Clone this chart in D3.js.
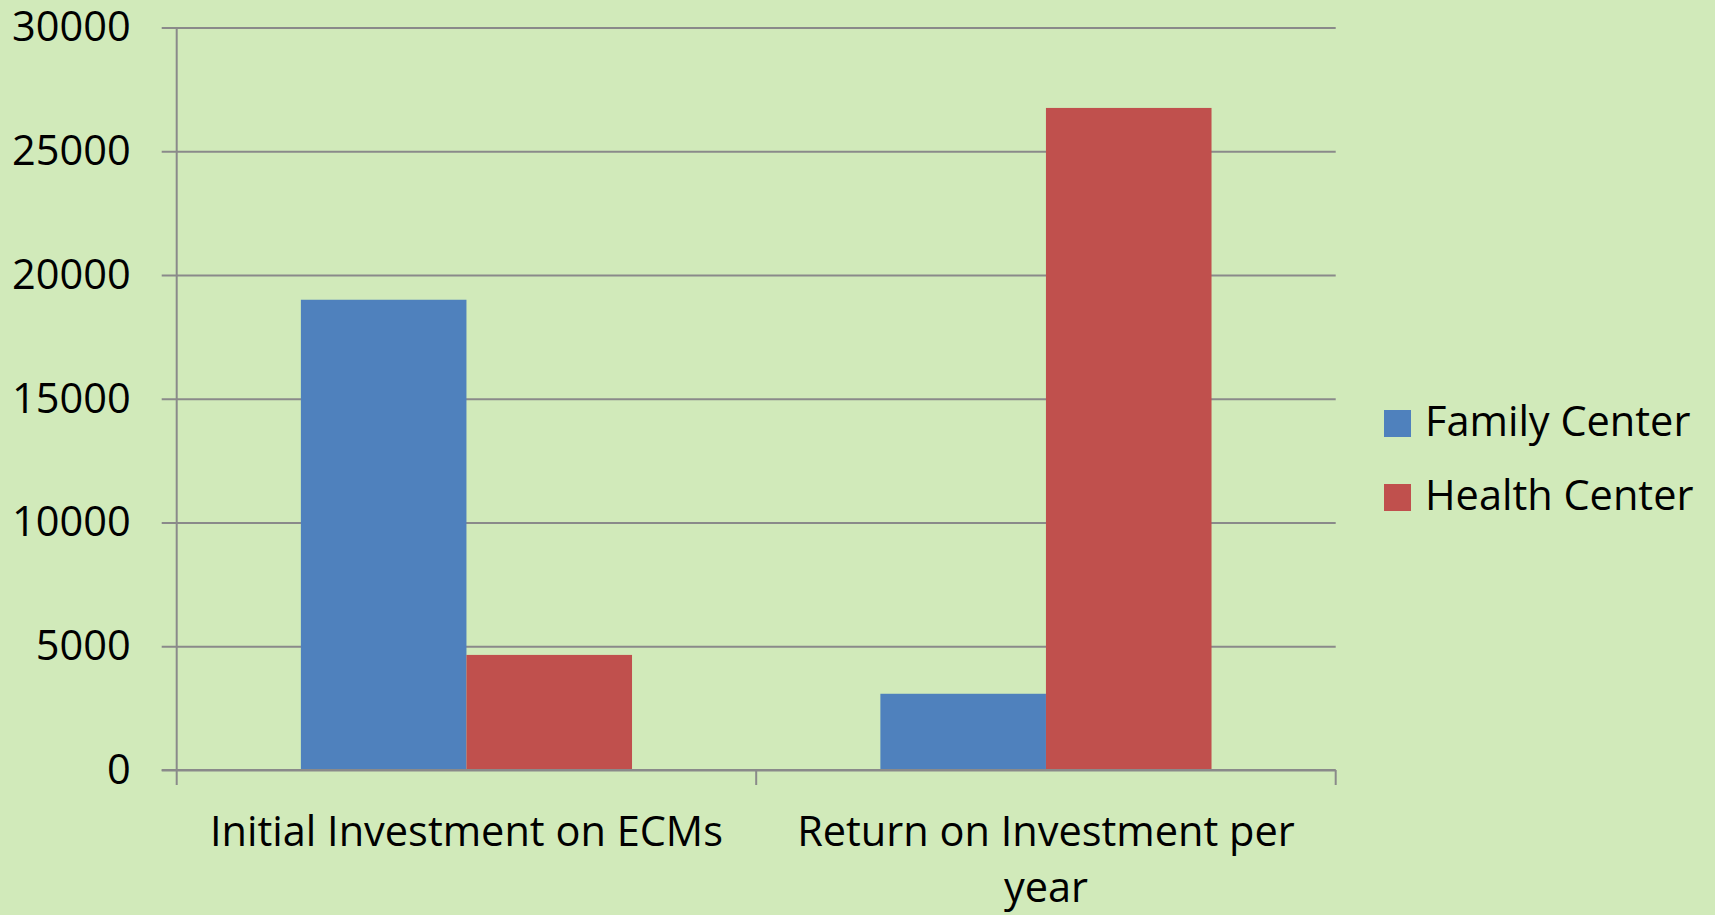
<!DOCTYPE html>
<html>
<head>
<meta charset="utf-8">
<script src="https://cdn.jsdelivr.net/npm/d3@7"></script>
<style>
  html, body { margin: 0; padding: 0; background: #d1eaba; }
  svg { display: block; font-family: "Open Sans", sans-serif; }
</style>
</head>
<body>
<svg id="chart"></svg>
<script>
const categories = ["Initial Investment on ECMs", "Return on Investment per year"];
const seriesNames = ["Family Center", "Health Center"];
const familyCenter = [19000, 3080];
const healthCenter = [4650, 26750];
const yTicks = [0, 5000, 10000, 15000, 20000, 25000, 30000];
const colors = ["#4f81bd", "#c0504d"];

const width = 1715, height = 915;
const plot = { left: 176.7, right: 1335.7, top: 27.5, bottom: 770 };
const fontSize = 41.5;

const svg = d3.select("#chart").attr("width", width).attr("height", height);
svg.append("rect").attr("width", width).attr("height", height).attr("fill", "#d1eaba");

const rows = categories.map((c, i) => ({ cat: c, values: [familyCenter[i], healthCenter[i]] }));

const x = d3.scaleBand().domain(categories).range([plot.left, plot.right]).padding(0);
const xSub = d3.scaleBand().domain(seriesNames).range([0, x.bandwidth()])
  .paddingInner(0).paddingOuter(0.75);
const y = d3.scaleLinear().domain([0, 30000]).range([plot.bottom, plot.top]);

const gridColor = "#8a8a8a";

// gridlines + y labels
const yAxis = d3.axisLeft(y)
  .tickValues(yTicks)
  .tickFormat(d3.format("d"))
  .tickSize(-(plot.right - plot.left + 15))
  .tickPadding(31);

const gy = svg.append("g")
  .attr("transform", `translate(${plot.left - 15},0)`)
  .call(yAxis);
gy.select(".domain").remove();
gy.selectAll(".tick line").attr("stroke", gridColor).attr("stroke-width", 2);
gy.selectAll(".tick text")
  .attr("fill", "#000")
  .attr("font-size", fontSize)
  .attr("font-family", "Open Sans, sans-serif");

// bars
const groups = svg.append("g").selectAll("g")
  .data(rows)
  .join("g")
  .attr("transform", (d) => `translate(${x(d.cat)},0)`);

groups.selectAll("rect")
  .data((d) => d.values.map((v, i) => ({ name: seriesNames[i], value: v, i: i })))
  .join("rect")
  .attr("x", (d) => xSub(d.name))
  .attr("width", xSub.bandwidth())
  .attr("y", (d) => y(d.value))
  .attr("height", (d) => y(0) - y(d.value))
  .attr("fill", (d) => colors[d.i]);

// y axis line
svg.append("line")
  .attr("x1", plot.left).attr("x2", plot.left)
  .attr("y1", plot.top).attr("y2", plot.bottom + 15)
  .attr("stroke", gridColor).attr("stroke-width", 2);

// x axis baseline and category boundary ticks
svg.append("line")
  .attr("x1", plot.left - 15).attr("x2", plot.right)
  .attr("y1", y(0)).attr("y2", y(0))
  .attr("stroke", gridColor).attr("stroke-width", 2);

const bounds = categories.map((c) => x(c)).concat([x(categories[categories.length - 1]) + x.bandwidth()]);
svg.append("g").selectAll("line")
  .data(bounds.slice(1))
  .join("line")
  .attr("x1", (d) => d).attr("x2", (d) => d)
  .attr("y1", y(0)).attr("y2", y(0) + 15)
  .attr("stroke", gridColor).attr("stroke-width", 2);

// category labels, wrapped to band width
const labels = svg.append("g").selectAll("text")
  .data(categories)
  .join("text")
  .attr("x", (d) => x(d) + x.bandwidth() / 2)
  .attr("y", 846)
  .attr("text-anchor", "middle")
  .attr("font-size", fontSize)
  .attr("fill", "#000");

labels.each(function (d) {
  const text = d3.select(this);
  const words = d.split(" ");
  const cx = x(d) + x.bandwidth() / 2;
  let line = [];
  let lineNo = 0;
  let tspan = text.append("tspan").attr("x", cx).attr("dy", 0);
  for (const w of words) {
    line.push(w);
    tspan.text(line.join(" "));
    if (tspan.node().getComputedTextLength() > x.bandwidth() - 20 && line.length > 1) {
      line.pop();
      tspan.text(line.join(" "));
      line = [w];
      lineNo++;
      tspan = text.append("tspan").attr("x", cx).attr("dy", 56).text(w);
    }
  }
});

// legend
const legend = svg.append("g").attr("transform", "translate(1384,410)");
const items = legend.selectAll("g")
  .data(seriesNames)
  .join("g")
  .attr("transform", (d, i) => `translate(0,${i * 74})`);
items.append("rect")
  .attr("width", 27).attr("height", 27)
  .attr("fill", (d, i) => colors[i]);
items.append("text")
  .attr("x", 41).attr("y", 26)
  .attr("font-size", fontSize)
  .attr("fill", "#000")
  .text((d) => d);
</script>
</body>
</html>
